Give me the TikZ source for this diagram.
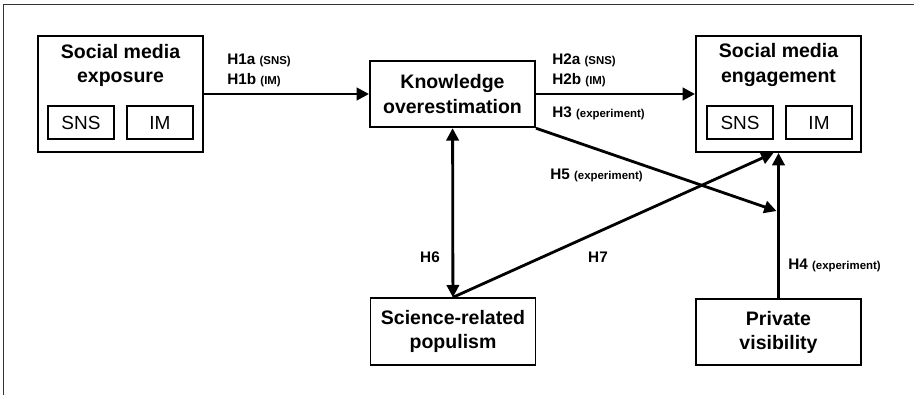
\documentclass[tikz,border=0pt]{standalone}
\usepackage{fontspec}
\setmainfont{Liberation Sans}
\usetikzlibrary{arrows.meta}
\newcommand{\cond}[1]{{\fontsize{6.5}{7}\selectfont(#1)}}

\begin{document}
\begin{tikzpicture}[
  >={Triangle[length=7pt, width=7pt]},
  every node/.style={inner sep=0pt},
  bigbox/.style={rectangle, draw=black, line width=1.1pt, minimum width=3.3cm, minimum height=2.32cm},
  varbox/.style={rectangle, draw=black, line width=1.1pt, minimum width=3.3cm, minimum height=1.33cm, align=center, font=\fontsize{11.1}{13.7}\selectfont\bfseries},
  title/.style={align=center, font=\fontsize{11.1}{13.7}\selectfont\bfseries},
  subbox/.style={rectangle, draw=black, line width=1.1pt, minimum width=1.32cm, minimum height=0.66cm, font=\fontsize{10.8}{12}\selectfont},
  link/.style={->, line width=1.6pt},
  hlabel/.style={anchor=west, align=left, font=\fontsize{8.7}{11.4}\selectfont\bfseries},
  hmid/.style={font=\fontsize{8.7}{11.4}\selectfont\bfseries},
  frame/.style={line width=0.8pt, black!80},
]
\useasboundingbox (0,0) rectangle (18.28,-7.9);

% ---- outer frame (cropped on the right and bottom) ----
\draw[frame] (0.07,-7.9) |- (18.28,-0.09);

% ---- social media exposure ----
\node[bigbox] (expo)       at (2.41, -1.88) {};
\node[title]  (expo-title) at (2.41, -1.30) {Social media\\exposure};
\node[subbox] (expo-sns)   at (1.62, -2.45) {SNS};
\node[subbox] (expo-im)    at (3.20, -2.45) {IM};

% ---- knowledge overestimation ----
\node[varbox] (know) at (9.05, -1.88) {Knowledge\\overestimation};

% ---- social media engagement ----
\node[bigbox] (eng)       at (15.57, -1.88) {};
\node[title]  (eng-title) at (15.57, -1.30) {Social media\\engagement};
\node[subbox] (eng-sns)   at (14.80, -2.45) {SNS};
\node[subbox] (eng-im)    at (16.38, -2.45) {IM};

% ---- bottom row ----
\node[varbox] (sci)  at (9.06, -6.63)  {Science-related\\populism};
\node[varbox] (priv) at (15.57, -6.64) {Private\\visibility};

% ---- paths ----
\coordinate (h5tip) at (15.53, -4.22);
\draw[link] (expo) -- (know);
\draw[link] (know) -- (eng);
\draw[link, <->] (know) -- (sci);
\draw[link] (priv) -- (eng);
\draw[link] (know.south east) -- (h5tip);
\draw[link] (sci.north) -- ([xshift=-0.1cm]eng.south);

% ---- hypothesis labels ----
\node[hlabel] (lbl-h1) at (4.54, -1.40)  {H1a \cond{SNS}\\H1b \cond{IM}};
\node[hlabel] (lbl-h2) at (11.04, -1.40) {H2a \cond{SNS}\\H2b \cond{IM}};
\node[hlabel] (lbl-h3) at (11.04, -2.26) {H3 \cond{experiment}};
\node[hlabel] (lbl-h5) at (11.00, -3.50) {H5 \cond{experiment}};
\node[hlabel] (lbl-h4) at (15.76, -5.30) {H4 \cond{experiment}};
\node[hmid]   (lbl-h6) at (8.60, -5.14)  {H6};
\node[hmid]   (lbl-h7) at (11.96, -5.14) {H7};

\end{tikzpicture}
\end{document}
